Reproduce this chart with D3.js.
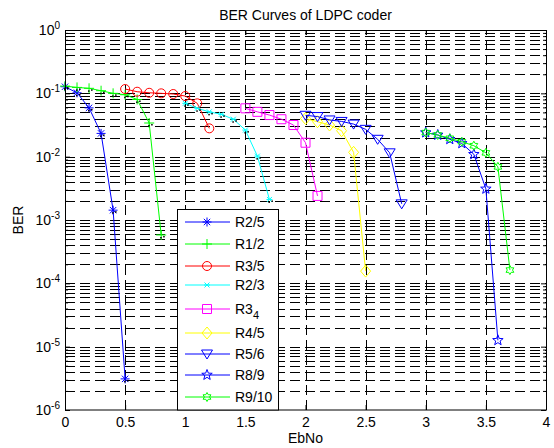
<!DOCTYPE html>
<html>
<head>
<meta charset="utf-8">
<script src="https://cdn.jsdelivr.net/npm/d3@7"></script>
<style>
  body { margin: 0; background: #fff; }
  text { font-family: "Liberation Sans", Arial, Helvetica, sans-serif; }
</style>
</head>
<body>
<div id="chart"></div>
<script>
// values, one pair of arrays per code rate
var xR25 = [0, 0.1, 0.2, 0.3, 0.4, 0.5];
var yR25 = [0.127, 0.102, 0.059, 0.0233, 0.00143, 3.1e-6];

var xR12 = [0, 0.1, 0.2, 0.3, 0.4, 0.5, 0.6, 0.7, 0.8];
var yR12 = [0.130, 0.124, 0.120, 0.110, 0.100, 0.095, 0.080, 0.034, 5.8e-4];

var xR35 = [0.5, 0.6, 0.7, 0.8, 0.9, 1.0, 1.1, 1.2];
var yR35 = [0.117, 0.106, 0.102, 0.100, 0.0975, 0.0906, 0.0695, 0.028];

var xR23 = [1.0, 1.1, 1.2, 1.3, 1.4, 1.5, 1.6, 1.7];
var yR23 = [0.0695, 0.058, 0.051, 0.0466, 0.039, 0.0263, 0.0102, 0.00211];

var xR34 = [1.5, 1.6, 1.7, 1.8, 1.9, 2.0, 2.1];
var yR34 = [0.058, 0.051, 0.0454, 0.039, 0.0316, 0.0166, 0.0024];

var xR45 = [2.0, 2.1, 2.2, 2.3, 2.4, 2.5];
var yR45 = [0.040, 0.0356, 0.0316, 0.0257, 0.0117, 1.56e-4];

var xR56 = [2.0, 2.1, 2.2, 2.3, 2.4, 2.5, 2.6, 2.7, 2.8];
var yR56 = [0.045, 0.043, 0.038, 0.036, 0.0327, 0.027, 0.0188, 0.0115, 0.0018];

var xR89 = [3.0, 3.1, 3.2, 3.3, 3.4, 3.5, 3.6];
var yR89 = [0.024, 0.022, 0.0188, 0.0162, 0.0109, 0.0031, 1.26e-5];

var xR910 = [3.0, 3.1, 3.2, 3.3, 3.4, 3.5, 3.6, 3.7];
var yR910 = [0.024, 0.022, 0.0195, 0.0172, 0.0149, 0.0115, 0.0069, 1.62e-4];

var names = ["R2/5", "R1/2", "R3/5", "R2/3", "R3_4", "R4/5", "R5/6", "R8/9", "R9/10"];
var colors = ["#0000ff", "#00ff00", "#ff0000", "#00ffff", "#ff00ff", "#ffff00", "#0000ff", "#0000ff", "#00ff00"];
var markers = ["*", "+", "o", "x", "s", "d", "v", "p", "h"];
var xTicks = [0, 0.5, 1, 1.5, 2, 2.5, 3, 3.5, 4];
var yTicks = [1e-6, 1e-5, 1e-4, 1e-3, 1e-2, 1e-1, 1];

var xs = [xR25, xR12, xR35, xR23, xR34, xR45, xR56, xR89, xR910];
var ys = [yR25, yR12, yR35, yR23, yR34, yR45, yR56, yR89, yR910];

var series = names.map(function (n, i) {
  return {
    name: n,
    color: colors[i],
    marker: markers[i],
    points: xs[i].map(function (v, j) { return [v, ys[i][j]]; })
  };
});

// dimensions
var W = 554, H = 448;
var margin = { top: 30, right: 8, bottom: 38, left: 65 };
var width = W - margin.left - margin.right;
var height = H - margin.top - margin.bottom;

var x = d3.scaleLinear().domain([0, 4]).range([0, width]);
var y = d3.scaleLog().domain([1e-6, 1]).range([height, 0]);

var svg = d3.select("#chart").append("svg")
  .attr("width", W)
  .attr("height", H)
  .style("display", "block");

var g = svg.append("g")
  .attr("transform", "translate(" + margin.left + "," + margin.top + ")");

// minor + major log values for grid and ticks
var minors = [];
yTicks.slice(0, -1).forEach(function (d) {
  for (var k = 2; k <= 9; k++) minors.push(d * k);
});

// grid, dashed like matlab
var grid = g.append("g").attr("class", "grid")
  .attr("stroke", "#000")
  .attr("stroke-width", 1)
  .attr("stroke-dasharray", "10,5");

grid.selectAll(".hmajor")
  .data(yTicks.slice(1, -1).concat(minors))
  .enter().append("line")
  .attr("x1", 0)
  .attr("x2", width)
  .attr("y1", function (d) { return Math.round(y(d)) + 0.5; })
  .attr("y2", function (d) { return Math.round(y(d)) + 0.5; });

grid.selectAll(".vline")
  .data(xTicks.slice(1, -1))
  .enter().append("line")
  .attr("y1", height)
  .attr("y2", 0)
  .attr("x1", function (d) { return Math.round(x(d)) + 0.5; })
  .attr("x2", function (d) { return Math.round(x(d)) + 0.5; });

// axes with inward ticks
var xAxis = d3.axisBottom(x).tickValues(xTicks).tickSize(-5).tickPadding(7)
  .tickFormat(function (d) { return d; });
var yAxis = d3.axisLeft(y).tickValues(yTicks).tickSize(-5).tickPadding(5)
  .tickFormat("");

var gx = g.append("g")
  .attr("transform", "translate(0," + height + ")")
  .call(xAxis);
var gy = g.append("g").call(yAxis);

// top / right mirror ticks
g.append("g").call(d3.axisTop(x).tickValues(xTicks).tickSize(-5).tickFormat(""));
g.append("g").attr("transform", "translate(" + width + ",0)")
  .call(d3.axisRight(y).tickValues(yTicks).tickSize(-5).tickFormat(""));

// minor y ticks both sides
g.append("g").call(d3.axisLeft(y).tickValues(minors).tickSize(-3).tickFormat(""));
g.append("g").attr("transform", "translate(" + width + ",0)")
  .call(d3.axisRight(y).tickValues(minors).tickSize(-3).tickFormat(""));

g.selectAll(".domain").remove();
g.selectAll(".tick line").attr("stroke", "#000");

gx.selectAll("text")
  .attr("fill", "#000")
  .style("font-size", "14px");

// y tick labels 10^k
gy.selectAll(".tick").each(function (d) {
  var t = d3.select(this).append("text")
    .attr("x", -5)
    .attr("dy", "0.32em")
    .attr("text-anchor", "end")
    .attr("fill", "#000")
    .style("font-size", "14px");
  t.append("tspan").text("10");
  t.append("tspan")
    .attr("dy", "-0.6em")
    .style("font-size", "10px")
    .text(Math.round(Math.log10(d)));
});

// marker paths
function starPath(n, ro, ri) {
  var p = [];
  for (var i = 0; i < 2 * n; i++) {
    var r = i % 2 === 0 ? ro : ri;
    var a = -Math.PI / 2 + i * Math.PI / n;
    p.push([r * Math.cos(a), r * Math.sin(a)]);
  }
  return "M" + p.map(function (q) { return q[0].toFixed(2) + "," + q[1].toFixed(2); }).join("L") + "Z";
}

function markerPath(m) {
  switch (m) {
    case "*": return "M-4.5,0H4.5M0,-4.5V4.5M-3.2,-3.2L3.2,3.2M-3.2,3.2L3.2,-3.2";
    case "+": return "M-5,0H5M0,-5V5";
    case "x": return "M-2.5,-2.5L2.5,2.5M-2.5,2.5L2.5,-2.5M-3,0H3";
    case "o": return "M4.5,0A4.5,4.5 0 1,1 -4.5,0A4.5,4.5 0 1,1 4.5,0Z";
    case "s": return "M-4.5,-4.5H4.5V4.5H-4.5Z";
    case "d": return "M0,-6L5,0L0,6L-5,0Z";
    case "v": return "M-5.5,-4L5.5,-4L0,5Z";
    case "p": return starPath(5, 5.5, 2.3);
    case "h": return starPath(6, 4.5, 2.6);
  }
}

var line = d3.line()
  .x(function (d) { return x(d[0]); })
  .y(function (d) { return y(d[1]); });

// draw curves
var curves = g.selectAll(".curve")
  .data(series)
  .enter().append("g")
  .attr("class", "curve");

curves.append("path")
  .attr("d", function (d) { return line(d.points); })
  .attr("fill", "none")
  .attr("stroke", function (d) { return d.color; })
  .attr("stroke-width", 1);

curves.each(function (s) {
  var sel = d3.select(this);
  var pts = sel.selectAll(".mk")
    .data(s.points)
    .enter().append("g")
    .attr("transform", function (d) { return "translate(" + x(d[0]) + "," + y(d[1]) + ")"; });
  pts.append("path")
    .attr("d", markerPath(s.marker))
    .attr("fill", "none")
    .attr("stroke", s.color)
    .attr("stroke-width", 1);
  // little black specks that sit under the line markers in the original
  if (s.marker === "*" || s.marker === "+" || s.marker === "x") {
    pts.append("rect").attr("x", -1).attr("y", 2).attr("width", 1.5).attr("height", 1.5).attr("fill", "#000");
    pts.append("rect").attr("x", 2).attr("y", 1).attr("width", 1.5).attr("height", 1.5).attr("fill", "#000");
  }
});

// frame
g.append("rect")
  .attr("x", 0.5)
  .attr("y", 0.5)
  .attr("width", width)
  .attr("height", height - 0.5)
  .attr("fill", "none")
  .attr("stroke", "#000")
  .attr("stroke-width", 1);

// legend
var legX = 177 - margin.left, legY = 209 - margin.top;
var legend = g.append("g").attr("transform", "translate(" + legX + "," + legY + ")");
legend.append("rect")
  .attr("x", 0.5)
  .attr("y", 0.5)
  .attr("width", 101)
  .attr("height", height - legY - 0.5)
  .attr("fill", "#fff")
  .attr("stroke", "#000");

var rowY = [13, 35, 57, 76, 100, 124, 145, 166, 188];
var items = legend.selectAll(".item")
  .data(series)
  .enter().append("g")
  .attr("transform", function (d, i) { return "translate(0," + rowY[i] + ")"; });

items.append("line")
  .attr("x1", 8).attr("x2", 53)
  .attr("stroke", function (d) { return d.color; });
items.append("path")
  .attr("transform", "translate(30,0)")
  .attr("d", function (d) { return markerPath(d.marker); })
  .attr("fill", "none")
  .attr("stroke", function (d) { return d.color; });
items.append("text")
  .attr("x", 58)
  .attr("dy", "0.35em")
  .attr("fill", "#000")
  .style("font-size", "14px")
  .each(function (d) {
    var t = d3.select(this);
    if (d.name.indexOf("_") > 0) {
      var parts = d.name.split("_");
      t.append("tspan").text(parts[0]);
      t.append("tspan").attr("dy", "0.45em").style("font-size", "11px").text(parts[1]);
    } else {
      t.text(d.name);
    }
  });

// labels
svg.append("text")
  .attr("x", margin.left + width / 2)
  .attr("y", 20)
  .attr("text-anchor", "middle")
  .style("font-size", "14px")
  .text("BER Curves of LDPC coder");

svg.append("text")
  .attr("x", margin.left + width / 2)
  .attr("y", 443)
  .attr("text-anchor", "middle")
  .style("font-size", "14px")
  .text("EbNo");

svg.append("text")
  .attr("text-anchor", "middle")
  .attr("transform", "translate(23," + (margin.top + height / 2) + ") rotate(-90)")
  .style("font-size", "14px")
  .text("BER");
</script>
</body>
</html>
